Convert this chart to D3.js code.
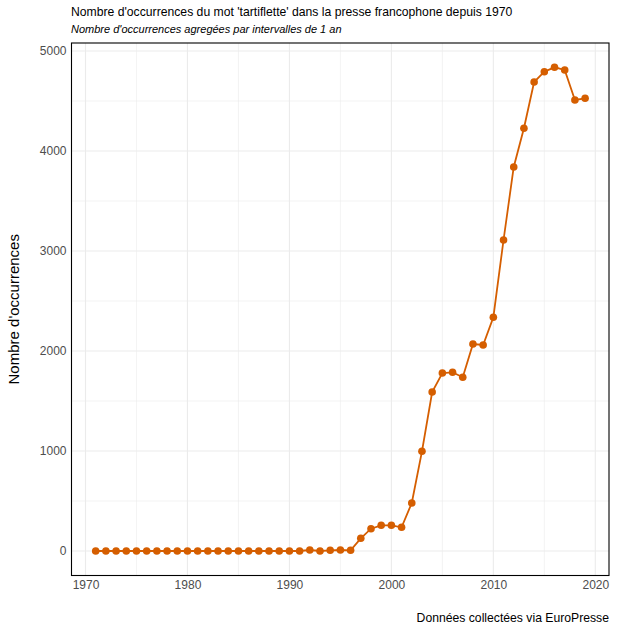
<!DOCTYPE html>
<html><head><meta charset="utf-8">
<script src="https://cdn.jsdelivr.net/npm/d3@7"></script>
<style>body{margin:0;background:#fff}svg{display:block;font-family:"Liberation Sans",Arial,sans-serif}</style>
</head><body>
<script>
const years = d3.range(1971, 2020);
const occurrences = [
  0,0,0,0,0,0,0,0,0,0,
  0,0,0,0,0,0,0,0,0,0,
  0,10,0,7,10,7,127,223,257,257,
  237,480,997,1590,1780,1787,1737,2070,2060,2337,
  3110,3840,4227,4690,4793,4837,4810,4510,4527
];
const xTicks = [1970,1980,1990,2000,2010,2020];
const yTicks = [0,1000,2000,3000,4000,5000];
const xMinor = [1975,1985,1995,2005,2015];
const yMinor = [500,1500,2500,3500,4500];
const title = "Nombre d'occurrences du mot 'tartiflette' dans la presse francophone depuis 1970";
const subtitle = "Nombre d'occurrences agregées par intervalles de 1 an";
const yLabel = "Nombre d'occurrences";
const caption = "Données collectées via EuroPresse";

const W=617,H=630;
const L=71.5,R=609,T=43,B=575.5;
const color="#D55E00";
const svg=d3.select("body").append("svg").attr("width",W).attr("height",H);
const x=d3.scaleLinear().domain([1970,2020]).range([85.5,595.3]);
const y=d3.scaleLinear().domain([0,5000]).range([551,51]);

const g=svg.append("g");
g.selectAll(".gmin").data(xMinor).join("line").attr("x1",d=>x(d)).attr("x2",d=>x(d)).attr("y1",T).attr("y2",B).attr("stroke","#ebebeb").attr("stroke-width",0.6);
g.selectAll(".gminy").data(yMinor).join("line").attr("y1",d=>y(d)).attr("y2",d=>y(d)).attr("x1",L).attr("x2",R).attr("stroke","#ebebeb").attr("stroke-width",0.6);
g.selectAll(".gmaj").data(xTicks).join("line").attr("x1",d=>x(d)).attr("x2",d=>x(d)).attr("y1",T).attr("y2",B).attr("stroke","#ebebeb").attr("stroke-width",1.1);
g.selectAll(".gmajy").data(yTicks).join("line").attr("y1",d=>y(d)).attr("y2",d=>y(d)).attr("x1",L).attr("x2",R).attr("stroke","#ebebeb").attr("stroke-width",1.1);

const data=years.map((yr,i)=>({yr,v:occurrences[i]}));
svg.append("path").datum(data).attr("fill","none").attr("stroke",color).attr("stroke-width",1.8)
  .attr("d",d3.line().x(d=>x(d.yr)).y(d=>y(d.v)));
svg.selectAll("circle.pt").data(data).join("circle").attr("cx",d=>x(d.yr)).attr("cy",d=>y(d.v)).attr("r",3.8).attr("fill",color);

svg.append("rect").attr("x",L).attr("y",T).attr("width",R-L).attr("height",B-T).attr("fill","none").attr("stroke","#000").attr("stroke-width",1.1);

const xAxis=svg.append("g").attr("transform",`translate(0,${B})`).call(d3.axisBottom(x).tickValues(xTicks).tickFormat(d3.format("d")).tickSize(0).tickPadding(5));
const yAxis=svg.append("g").attr("transform",`translate(${L},0)`).call(d3.axisLeft(y).tickValues(yTicks).tickFormat(d3.format("d")).tickSize(0).tickPadding(5));
[xAxis,yAxis].forEach(a=>{a.select(".domain").remove();a.selectAll("text").attr("fill","#4d4d4d").style("font-size","12px").style("font-family","Liberation Sans, Arial, sans-serif");});

svg.append("text").attr("x",71).attr("y",16).style("font-size","12.2px").attr("fill","#000").text(title);
svg.append("text").attr("x",71).attr("y",33).style("font-size","11px").style("font-style","italic").attr("fill","#000").text(subtitle);
svg.append("text").attr("transform",`translate(19,${(T+B)/2}) rotate(-90)`).attr("text-anchor","middle").style("font-size","15px").attr("fill","#000").text(yLabel);
svg.append("text").attr("x",609).attr("y",622).attr("text-anchor","end").style("font-size","12.2px").attr("fill","#000").text(caption);
</script>
</body></html>
